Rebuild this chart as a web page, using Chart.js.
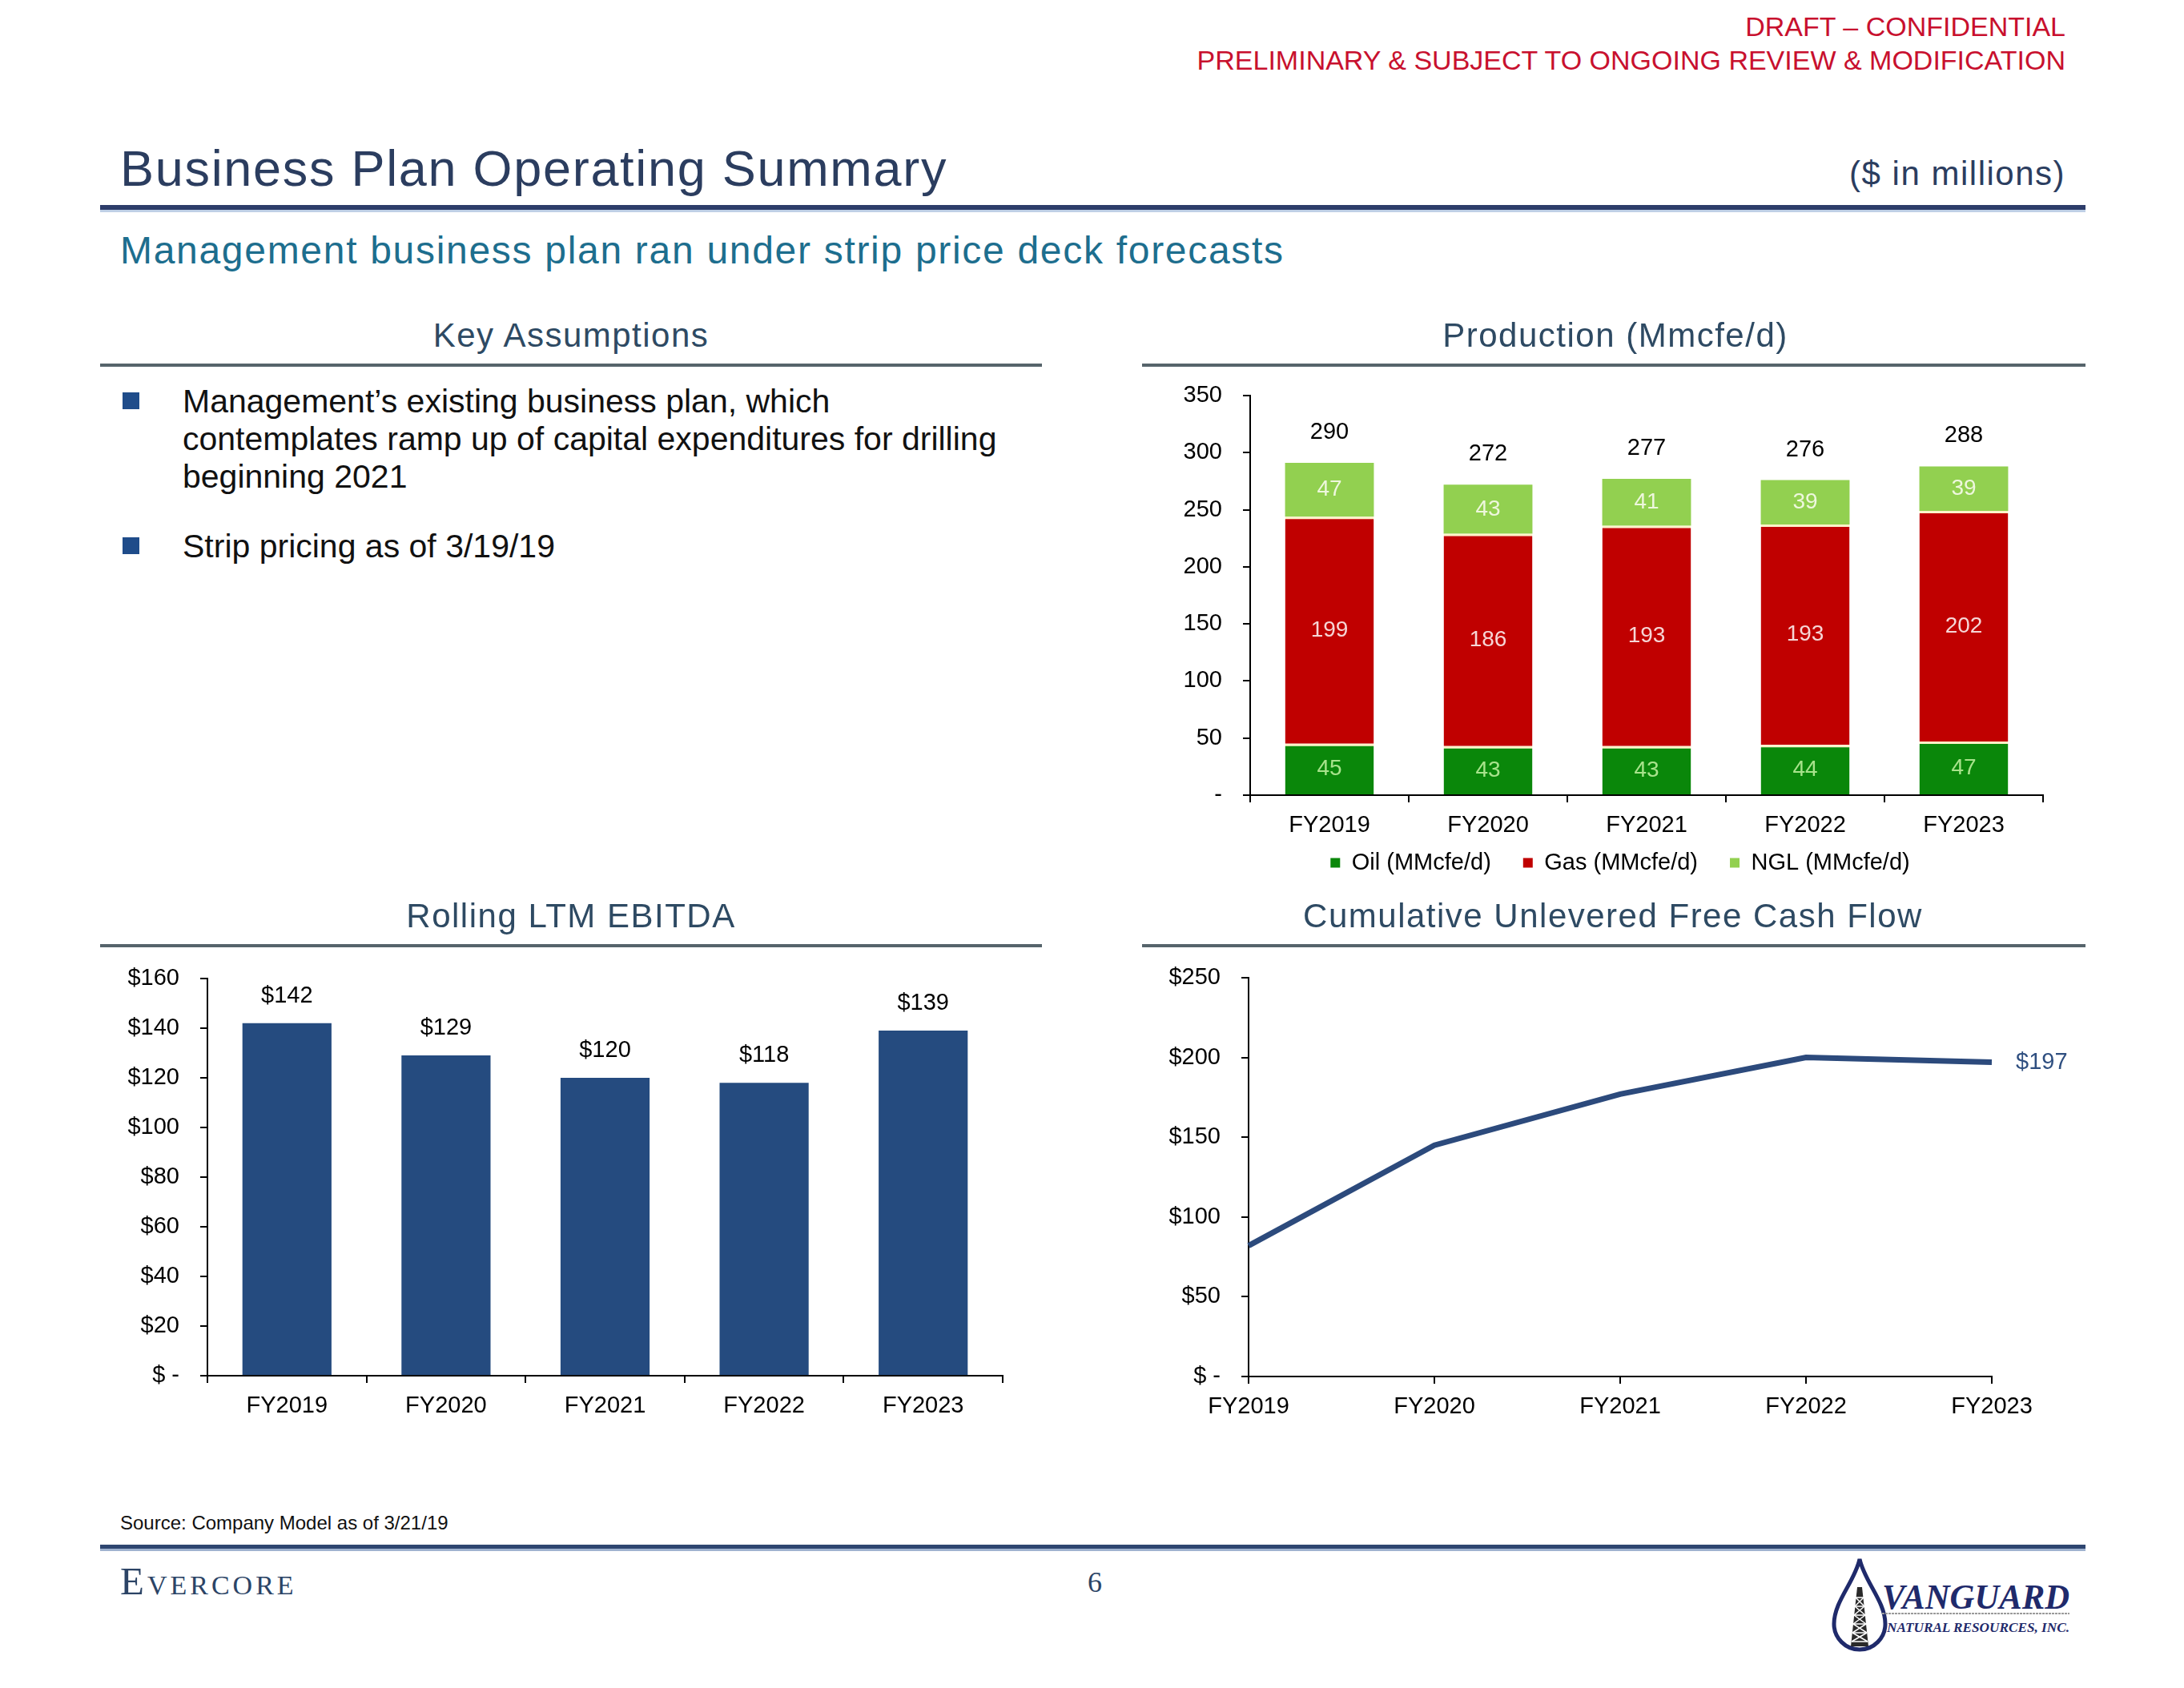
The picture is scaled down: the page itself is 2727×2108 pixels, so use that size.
<!DOCTYPE html>
<html>
<head>
<meta charset="utf-8">
<script src="https://cdn.jsdelivr.net/npm/chart.js@4.4.1/dist/chart.umd.min.js"></script>
<style>
html,body{margin:0;padding:0;background:#fff;}
#slide{position:relative;width:2727px;height:2108px;overflow:hidden;background:#fff;font-family:"Liberation Sans",Arial,Helvetica,sans-serif;}
.t{position:absolute;white-space:nowrap;}
.r{position:absolute;}
canvas{position:absolute;}
</style>
</head>
<body>
<div id="slide">
  <canvas id="c1" width="1143" height="626" style="left:119px;top:1162px;"></canvas>
  <canvas id="c2" width="1204" height="668" style="left:1421px;top:434px;"></canvas>
  <canvas id="c3" width="1198" height="628" style="left:1419px;top:1161px;"></canvas>
  <svg style="position:absolute;left:2280px;top:1940px;" width="320" height="130" viewBox="0 0 320 130">
    <path d="M42,7 C36,35 10,60 10,88 A32,32 0 0 0 74,88 C74,60 48,35 42,7 Z" fill="#fff" stroke="#1F2A6B" stroke-width="5"/>
    <polygon points="39,42 45,42 53,116 31,116" fill="#2a2a2a"/>
    <g stroke="#fff" stroke-width="1.5">
      <line x1="37" y1="55" x2="47" y2="55"/><line x1="36" y1="66" x2="48" y2="66"/>
      <line x1="35" y1="77" x2="49" y2="77"/><line x1="34" y1="88" x2="50" y2="88"/>
      <line x1="33" y1="99" x2="51" y2="99"/><line x1="32" y1="110" x2="52" y2="110"/>
      <line x1="37" y1="55" x2="48" y2="66"/><line x1="47" y1="55" x2="36" y2="66"/>
      <line x1="36" y1="66" x2="49" y2="77"/><line x1="48" y1="66" x2="35" y2="77"/>
      <line x1="35" y1="77" x2="50" y2="88"/><line x1="49" y1="77" x2="34" y2="88"/>
      <line x1="34" y1="88" x2="51" y2="99"/><line x1="50" y1="88" x2="33" y2="99"/>
      <line x1="33" y1="99" x2="52" y2="110"/><line x1="51" y1="99" x2="32" y2="110"/>
    </g>
    <text x="70" y="69" font-family="Liberation Serif, DejaVu Serif, serif" font-weight="bold" font-style="italic" font-size="44" fill="#1F2A6B" textLength="234" lengthAdjust="spacingAndGlyphs">VANGUARD</text>
    <line x1="70" y1="75" x2="304" y2="75" stroke="#9a9a9a" stroke-width="2" stroke-dasharray="3,1"/>
    <text x="76" y="98" font-family="Liberation Serif, DejaVu Serif, serif" font-weight="bold" font-style="italic" font-size="17" fill="#1F2A6B" textLength="228" lengthAdjust="spacingAndGlyphs">NATURAL RESOURCES, INC.</text>
  </svg>
</div>
<script>
// ---------------- DATA ----------------
const categories = ['FY2019', 'FY2020', 'FY2021', 'FY2022', 'FY2023'];
const ebitdaValues = [142, 129, 120, 118, 139];
const oilValues = [45, 43, 43, 44, 47];
const gasValues = [199, 186, 193, 193, 202];
const nglValues = [47, 43, 41, 39, 39];
const productionTotals = [290, 272, 277, 276, 288];
const fcfValues = [82, 145, 177, 200, 197];
const productionSeries = ['Oil (MMcfe/d)', 'Gas (MMcfe/d)', 'NGL (MMcfe/d)'];
const bulletLines = [
  ['Management\u2019s existing business plan, which', 'contemplates ramp up of capital expenditures for drilling', 'beginning 2021'],
  ['Strip pricing as of 3/19/19']
];

// ---------------- STATIC SLIDE TEXT ----------------
const FONT = '"Liberation Sans", Arial, Helvetica, sans-serif';
const SERIF = '"Liberation Serif", "DejaVu Serif", Times, serif';
const slide = document.getElementById('slide');
function addText(txt, o) {
  const d = document.createElement('div');
  d.className = 't';
  d.textContent = txt;
  const size = o.size, lh = Math.round(size * 1.2);
  d.style.fontSize = size + 'px';
  d.style.lineHeight = lh + 'px';
  d.style.top = (o.y - lh / 2) + 'px';
  d.style.color = o.color || '#000';
  d.style.fontFamily = o.family || FONT;
  if (o.spacing) d.style.letterSpacing = o.spacing + 'px';
  if (o.variant) d.style.fontVariant = o.variant;
  if (o.weight) d.style.fontWeight = o.weight;
  if (o.align === 'right') { d.style.right = (2727 - o.x) + 'px'; }
  else if (o.align === 'center') { d.style.left = o.x + 'px'; d.style.transform = 'translateX(-50%)'; }
  else { d.style.left = o.x + 'px'; }
  slide.appendChild(d);
}
function addRule(x1, x2, y, h, color) {
  const d = document.createElement('div');
  d.className = 'r';
  d.style.left = x1 + 'px'; d.style.width = (x2 - x1) + 'px';
  d.style.top = y + 'px'; d.style.height = h + 'px';
  d.style.background = color;
  slide.appendChild(d);
}
const RED = '#C8102E', NAVY = '#2B3D5F', TEAL = '#1D6E8E', HEAD = '#2E4A63';
addText('DRAFT \u2013 CONFIDENTIAL', {x: 2579, y: 33, size: 34, color: RED, align: 'right'});
addText('PRELIMINARY & SUBJECT TO ONGOING REVIEW & MODIFICATION', {x: 2579, y: 75, size: 34, color: RED, align: 'right'});
addText('Business Plan Operating Summary', {x: 150, y: 210, size: 63, color: NAVY, spacing: 1.7});
addText('($ in millions)', {x: 2579, y: 217, size: 42, color: NAVY, spacing: 1.5, align: 'right'});
addRule(125, 2604, 256, 6, '#2D3D6A');
addRule(125, 2604, 262, 3, '#BFD0E6');
addText('Management business plan ran under strip price deck forecasts', {x: 150, y: 313, size: 48, color: TEAL, spacing: 1.7});

addText('Key Assumptions', {x: 713, y: 419, size: 42, color: HEAD, spacing: 1.5, align: 'center'});
addText('Production (Mmcfe/d)', {x: 2017, y: 419, size: 42, color: HEAD, spacing: 1.5, align: 'center'});
addRule(125, 1301, 454, 4, '#56646B');
addRule(1426, 2604, 454, 4, '#56646B');
addText('Rolling LTM EBITDA', {x: 713, y: 1144, size: 42, color: HEAD, spacing: 1.5, align: 'center'});
addText('Cumulative Unlevered Free Cash Flow', {x: 2014, y: 1144, size: 42, color: HEAD, spacing: 1.5, align: 'center'});
addRule(125, 1301, 1179, 4, '#56646B');
addRule(1426, 2604, 1179, 4, '#56646B');

// bullets
const bulletTops = [501, 682];
bulletLines.forEach((lines, b) => {
  const sq = document.createElement('div');
  sq.className = 'r';
  sq.style.left = '153px'; sq.style.top = (bulletTops[b] - 11) + 'px';
  sq.style.width = '21px'; sq.style.height = '21px'; sq.style.background = '#1F4C8A';
  slide.appendChild(sq);
  lines.forEach((ln, i) => addText(ln, {x: 228, y: bulletTops[b] + i * 47, size: 41, color: '#111'}));
});

addText('Source: Company Model as of 3/21/19', {x: 150, y: 1901, size: 24, color: '#111'});
addRule(125, 2604, 1929, 5, '#2E4670');
addRule(125, 2604, 1934, 3, '#9FB2CF');
addText('Evercore', {x: 150, y: 1974, size: 49, color: '#2C4466', family: SERIF, variant: 'small-caps', spacing: 4});
addText('6', {x: 1358, y: 1976, size: 36, color: '#2C4466', family: SERIF});

// ---------------- CHARTS ----------------
Chart.defaults.font.family = FONT;
Chart.defaults.color = '#000';

function yAxis(max, step, fmt, width) {
  return {
    min: 0, max: max,
    ticks: {stepSize: step, padding: 26, font: {size: 29}, color: '#000', callback: fmt},
    grid: {drawOnChartArea: false, drawTicks: true, tickLength: 9, color: '#000', lineWidth: 2},
    border: {display: true, color: '#000', width: 2},
    afterFit: s => { s.width = width; }
  };
}
function xAxis(height, offset, stacked) {
  return {
    stacked: !!stacked,
    offset: offset,
    ticks: {padding: 12, font: {size: 29}, color: '#000', maxRotation: 0, autoSkip: false},
    grid: {drawOnChartArea: false, drawTicks: true, tickLength: 9, color: '#000', lineWidth: 2, offset: offset},
    border: {display: true, color: '#000', width: 2},
    afterFit: s => { s.height = height; }
  };
}
const base = {responsive: false, animation: false, devicePixelRatio: 1};

// Chart 1: Rolling LTM EBITDA
const ebitdaLabels = {
  id: 'ebitdaLabels',
  afterDatasetsDraw(chart) {
    const ctx = chart.ctx, meta = chart.getDatasetMeta(0);
    ctx.save();
    ctx.font = '29px ' + FONT; ctx.fillStyle = '#000';
    ctx.textAlign = 'center'; ctx.textBaseline = 'middle';
    meta.data.forEach((bar, i) => ctx.fillText('$' + ebitdaValues[i], bar.x, bar.y - 34));
    ctx.restore();
  }
};
new Chart(document.getElementById('c1'), {
  type: 'bar',
  data: {labels: categories, datasets: [{data: ebitdaValues, backgroundColor: '#254B7F', barPercentage: 0.56, categoryPercentage: 1}]},
  options: Object.assign({}, base, {
    layout: {padding: {top: 60, right: 10, left: 0, bottom: 0}},
    plugins: {legend: {display: false}, tooltip: {enabled: false}},
    scales: {x: xAxis(70, true), y: yAxis(160, 20, v => v === 0 ? '$ -' : '$' + v, 140)}
  }),
  plugins: [ebitdaLabels]
});

// Chart 2: Production stacked bars
const segColors = ['#0A870A', '#C00000', '#92D050'];
const segLabelColors = ['#A8E38C', '#F6D6D6', '#EEF7DD'];
const prodLabels = {
  id: 'prodLabels',
  afterLayout(chart) {
    // let the category labels draw below the (short) axis box
    chart.scales.x.bottom += 60;
  },
  afterDatasetsDraw(chart) {
    const ctx = chart.ctx;
    ctx.save();
    ctx.textAlign = 'center'; ctx.textBaseline = 'middle';
    ctx.font = '28px ' + FONT;
    chart.data.datasets.forEach((ds, d) => {
      ctx.fillStyle = segLabelColors[d];
      chart.getDatasetMeta(d).data.forEach((bar, i) => {
        ctx.fillText(String(ds.data[i]), bar.x, (bar.y + bar.base) / 2);
      });
    });
    ctx.font = '29px ' + FONT; ctx.fillStyle = '#000';
    const topMeta = chart.getDatasetMeta(chart.data.datasets.length - 1);
    topMeta.data.forEach((bar, i) => ctx.fillText(String(productionTotals[i]), bar.x, bar.y - 38));
    ctx.restore();
  }
};
const sep = {top: 3, right: 0, bottom: 0, left: 0};
new Chart(document.getElementById('c2'), {
  type: 'bar',
  data: {
    labels: categories,
    datasets: [
      {label: productionSeries[0], data: oilValues, backgroundColor: segColors[0], borderColor: '#FFF3C8', borderWidth: sep, borderSkipped: false, barPercentage: 0.56, categoryPercentage: 1},
      {label: productionSeries[1], data: gasValues, backgroundColor: segColors[1], borderColor: '#FFF3C8', borderWidth: sep, borderSkipped: false, barPercentage: 0.56, categoryPercentage: 1},
      {label: productionSeries[2], data: nglValues, backgroundColor: segColors[2], borderWidth: 0, barPercentage: 0.56, categoryPercentage: 1}
    ]
  },
  options: Object.assign({}, base, {
    layout: {padding: {top: 60, right: 0, left: 0, bottom: 0}},
    plugins: {
      tooltip: {enabled: false},
      legend: {
        position: 'bottom',
        labels: {
          boxWidth: 12, boxHeight: 12, padding: 40, color: '#000', font: {size: 29},
          generateLabels: chart => Chart.defaults.plugins.legend.labels.generateLabels(chart).map(l => Object.assign(l, {lineWidth: 0, strokeStyle: 'rgba(0,0,0,0)'}))
        }
      }
    },
    scales: {
      x: xAxis(30, true, true),
      y: Object.assign(yAxis(350, 50, v => v === 0 ? '-' : String(v), 140), {stacked: true}),
      yR: {type: 'linear', position: 'right', display: true, grid: {display: false}, border: {display: false}, ticks: {display: false}, afterFit: s => { s.width = 74; }}
    }
  }),
  plugins: [prodLabels]
});

// Chart 3: Cumulative Unlevered FCF
const fcfLabel = {
  id: 'fcfLabel',
  afterDatasetsDraw(chart) {
    const ctx = chart.ctx, meta = chart.getDatasetMeta(0);
    const last = meta.data.length - 1, pt = meta.data[last];
    ctx.save();
    ctx.font = '29px ' + FONT; ctx.fillStyle = '#2F4F80';
    ctx.textAlign = 'left'; ctx.textBaseline = 'middle';
    ctx.fillText('$' + fcfValues[last], pt.x + 30, pt.y);
    ctx.restore();
  }
};
new Chart(document.getElementById('c3'), {
  type: 'line',
  data: {labels: categories, datasets: [{data: fcfValues, borderColor: '#2C4A7C', borderWidth: 7, pointRadius: 0, tension: 0, fill: false, borderCapStyle: 'butt'}]},
  options: Object.assign({}, base, {
    layout: {padding: {top: 60, right: 130, left: 0, bottom: 0}},
    plugins: {legend: {display: false}, tooltip: {enabled: false}},
    scales: {x: xAxis(70, false), y: yAxis(250, 50, v => v === 0 ? '$ -' : '$' + v, 140)}
  }),
  plugins: [fcfLabel]
});
</script>
</body>
</html>
